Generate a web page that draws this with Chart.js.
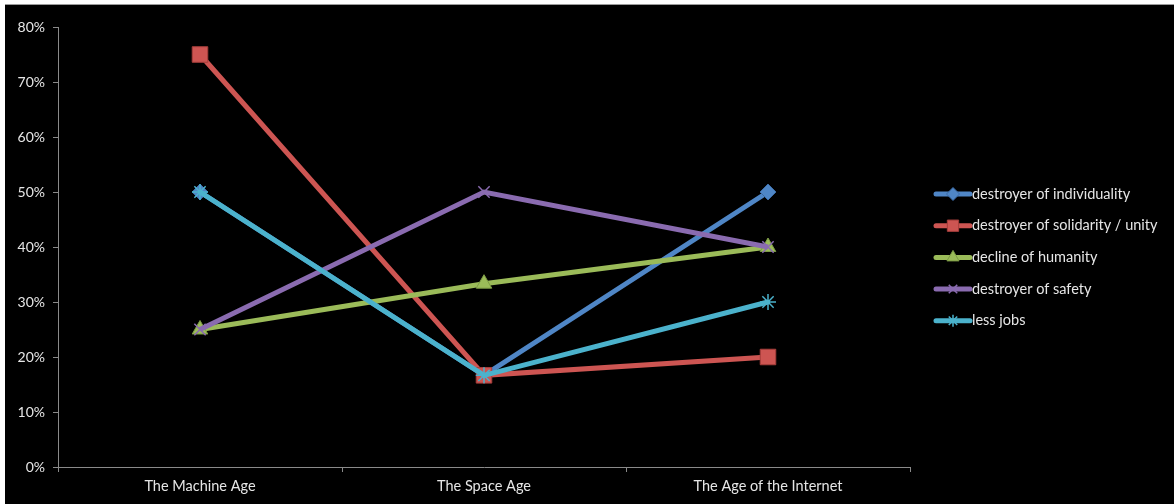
<!DOCTYPE html>
<html>
<head>
<meta charset="utf-8">
<script src="https://cdn.jsdelivr.net/npm/chart.js@4/dist/chart.umd.min.js"></script>
<style>
  html, body { margin: 0; padding: 0; background: #ffffff; }
  #frame { position: absolute; left: 5px; top: 4px; width: 1169px; height: 500px; background: #000000; border-top: 1px solid #9a9a9a; box-sizing: border-box; }
  #frame canvas { display: block; }
</style>
</head>
<body>
<div id="frame"><canvas id="c" width="1169" height="499"></canvas></div>
<script>
// Categories and series (share of respondents, %)
const categories = ['The Machine Age', 'The Space Age', 'The Age of the Internet'];
const individuality = [50, 16.67, 50];
const solidarity = [75, 16.67, 20];
const humanity = [25, 33.33, 40];
const safety = [25, 50, 40];
const lessJobs = [50, 16.67, 30];
const yTicks = [0, 10, 20, 30, 40, 50, 60, 70, 80];

const seriesNames = ['destroyer of individuality', 'destroyer of solidarity / unity', 'decline of humanity', 'destroyer of safety', 'less jobs'];
const seriesData = [individuality, solidarity, humanity, safety, lessJobs];
const colors = ['#4f86c6', '#cd5552', '#9bbb59', '#8a6bb0', '#4bb2cc'];
const borders = ['#3b6aa3', '#a63e3b', '#7d9b45', '#6a4f8d', '#3a8fa6'];
const styles = ['rectRot', 'rect', 'triangle', 'crossRot', 'star'];
const radii = [8, 11, 9, 8, 8];
const legendRadii = [6.5, 8, 7, 6, 6];

const FONT = 'Lato, "Open Sans", sans-serif';

const datasets = seriesData.map((d, i) => ({
  label: seriesNames[i],
  data: d,
  borderColor: colors[i],
  backgroundColor: colors[i],
  borderWidth: 5,
  pointStyle: styles[i],
  pointRadius: radii[i],
  pointHoverRadius: radii[i],
  pointBackgroundColor: colors[i],
  pointBorderColor: (styles[i] === 'crossRot' || styles[i] === 'star') ? colors[i] : borders[i],
  pointBorderWidth: (styles[i] === 'crossRot' || styles[i] === 'star') ? 1.5 : 1,
  tension: 0,
  order: seriesData.length - i
}));

// Legend drawn to the right: a short line with the series marker, then the name
const sideLegend = {
  id: 'sideLegend',
  afterDraw(chart) {
    const ctx = chart.ctx;
    const x0 = 931, x1 = 965, textX = 967;
    const y0 = 189, step = 31.7;
    ctx.save();
    chart.data.datasets.forEach((ds, i) => {
      const y = y0 + i * step;
      ctx.strokeStyle = ds.borderColor;
      ctx.lineWidth = 5;
      ctx.lineCap = 'round';
      ctx.beginPath();
      ctx.moveTo(x0, y);
      ctx.lineTo(x1, y);
      ctx.stroke();
      ctx.fillStyle = ds.pointBackgroundColor;
      ctx.strokeStyle = ds.pointBorderColor;
      ctx.lineWidth = ds.pointBorderWidth;
      ctx.lineCap = 'butt';
      Chart.helpers.drawPoint(ctx, {
        pointStyle: ds.pointStyle,
        rotation: 0,
        radius: legendRadii[i],
        borderWidth: ds.pointBorderWidth
      }, (x0 + x1) / 2, y);
      ctx.fillStyle = '#e6e6e6';
      ctx.font = '14.5px ' + FONT;
      ctx.textBaseline = 'middle';
      ctx.textAlign = 'left';
      ctx.fillText(ds.label, textX, y);
    });
    ctx.restore();
  }
};

new Chart(document.getElementById('c'), {
  type: 'line',
  data: { labels: categories, datasets },
  options: {
    responsive: false,
    animation: false,
    events: [],
    layout: { padding: { top: 22, right: 264, left: 0, bottom: 0 } },
    plugins: { legend: { display: false }, tooltip: { enabled: false } },
    scales: {
      x: {
        offset: true,
        grid: { offset: true, drawOnChartArea: false, drawTicks: true, tickLength: 5, color: '#8a8a8a' },
        border: { color: '#8a8a8a', width: 1 },
        ticks: { color: '#e6e6e6', font: { family: FONT, size: 14.5 }, padding: 6 },
        afterFit(s) { s.height = 37; }
      },
      y: {
        min: 0, max: 80,
        afterBuildTicks(s) { s.ticks = yTicks.map(v => ({ value: v })); },
        grid: { drawOnChartArea: false, drawTicks: true, tickLength: 5, color: '#8a8a8a' },
        border: { color: '#8a8a8a', width: 1 },
        ticks: { color: '#e6e6e6', font: { family: FONT, size: 14 }, padding: 8, callback: v => v + '%' },
        afterFit(s) { s.width = 53; }
      }
    }
  },
  plugins: [sideLegend]
});
</script>
</body>
</html>
